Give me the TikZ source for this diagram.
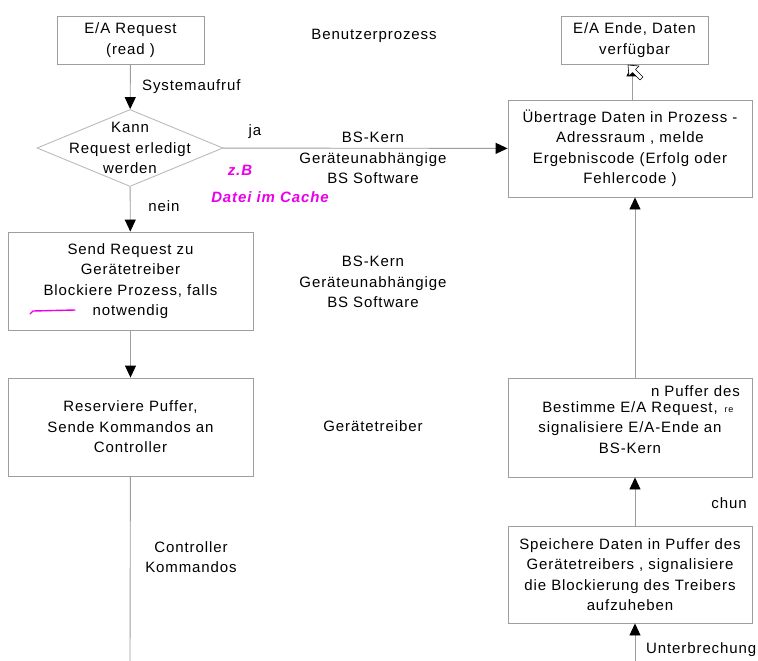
\documentclass[tikz,border=0pt]{standalone}
\usepackage{fontspec}
\setmainfont{Liberation Sans}[LetterSpace=6]
\usepackage{tikz}
\usetikzlibrary{shapes.geometric,arrows.meta}
\definecolor{rahmen}{gray}{0.62}
\definecolor{stift}{RGB}{235,0,235}
\tikzstyle{every node}=[font=\fontsize{15}{20.5}\selectfont, align=center, inner sep=0pt]
\tikzstyle{box}=[draw=rahmen, line width=0.9pt]
\tikzstyle{raute}=[diamond, draw=rahmen!70, line width=0.9pt, minimum width=186pt, minimum height=77pt]
\tikzstyle{linie}=[draw=rahmen, line width=0.9pt]
\tikzstyle{pfeil}=[linie, -{Triangle[length=12pt,width=11pt,color=black]}]
\tikzstyle{notiz}=[text=stift, font=\fontsize{15}{17}\selectfont\itshape\bfseries]

\begin{document}
\begin{tikzpicture}[x=1pt,y=-1pt]
 \clip (0,0) rectangle (758,661);
 \fill[white] (0,0) rectangle (758,661);
 % linke Spalte
 \node[box, minimum width=147pt, minimum height=48pt] (anfrage) at (130.5,40) {E/A Request\\(read )};
 \node[raute] (frage) at (130,148) {};
 \node at (frage) {Kann\\Request erledigt\\werden};
 \node[box, minimum width=245pt, minimum height=98pt] (senden) at (130.5,281) {Send Request zu\\Gerätetreiber\\Blockiere Prozess, falls\\notwendig};
 \node[box, minimum width=245pt, minimum height=98pt] (puffer) at (130.5,427) {Reserviere Puffer,\\Sende Kommandos an\\Controller};
 \coordinate (unten1) at (130,661);
 % rechte Spalte
 \node[box, minimum width=147pt, minimum height=48pt] (ende) at (634.5,40) {E/A Ende, Daten\\verfügbar};
 \node[box, minimum width=244pt, minimum height=97pt] (uebertrag) at (630,148.5) {Übertrage Daten in Prozess -\\Adressraum , melde\\Ergebniscode (Erfolg oder\\Fehlercode )};
 \node[box, minimum width=244pt, minimum height=99pt] (bestimme) at (630,427.5) {};
 \node[anchor=east] (geist) at (740,391) {n Puffer des};
 \node[font=\fontsize{9}{9}\selectfont] (geist2) at (729,410) {re};
 \node at (bestimme) {Bestimme E/A Request,\\signalisiere E/A-Ende an\\BS-Kern};
 \node[box, minimum width=244pt, minimum height=97pt] (speicher) at (630,574.5) {Speichere Daten in Puffer des\\Gerätetreibers , signalisiere\\die Blockierung des Treibers\\aufzuheben};
 \coordinate (unten2) at (635,661);
 % Ebenen
 \node (ebene1) at (374,36) {Benutzerprozess};
 \node (ebene2) at (373,158) {BS-Kern\\Geräteunabhängige\\BS Software};
 \node (ebene3) at (373,282) {BS-Kern\\Geräteunabhängige\\BS Software};
 \node (ebene4) at (373,426) {Gerätetreiber};
 % Verbindungen
 \draw[pfeil] (anfrage) -- (frage);
 \draw[pfeil] (frage) -- (senden);
 \draw[pfeil] (frage) -- (uebertrag);
 \draw[pfeil] (senden) -- (puffer);
 \draw[linie] (puffer) -- (unten1);
 \draw[pfeil] (unten2) -- (unten2 |- speicher.south);
 \draw[pfeil] ([xshift=5pt]speicher.north) -- ([xshift=5pt]bestimme.south);
 \draw[pfeil] ([xshift=5pt]bestimme.north) -- ([xshift=5pt]uebertrag.south);
 \draw[pfeil] ([xshift=2pt]uebertrag.north) -- ([xshift=2pt]uebertrag.north |- ende.south);
 \node[anchor=west] at (142,87) {Systemaufruf};
 \node at (255,132) {ja};
 \node at (164,206) {nein};
 \node at (191,557) {Controller\\Kommandos};
 \node at (729,503) {chun};
 \node[anchor=west] at (646,650) {Unterbrechung};
 % Handnotizen
 \node[notiz] at (240,170) {z.B};
 \node[notiz] at (270,197) {Datei im Cache};
 \draw[stift, line width=1.4pt, line cap=round] (30,314) -- (33,311) -- (75,310);
 % Mauszeiger
 \draw[fill=white, line width=0.6pt, line join=round] (628,65) -- (629,76) -- (632.5,72.5) -- (640,80) -- (643,77) -- (635.5,69.5) -- (639,66) -- cycle;
\end{tikzpicture}
\end{document}
